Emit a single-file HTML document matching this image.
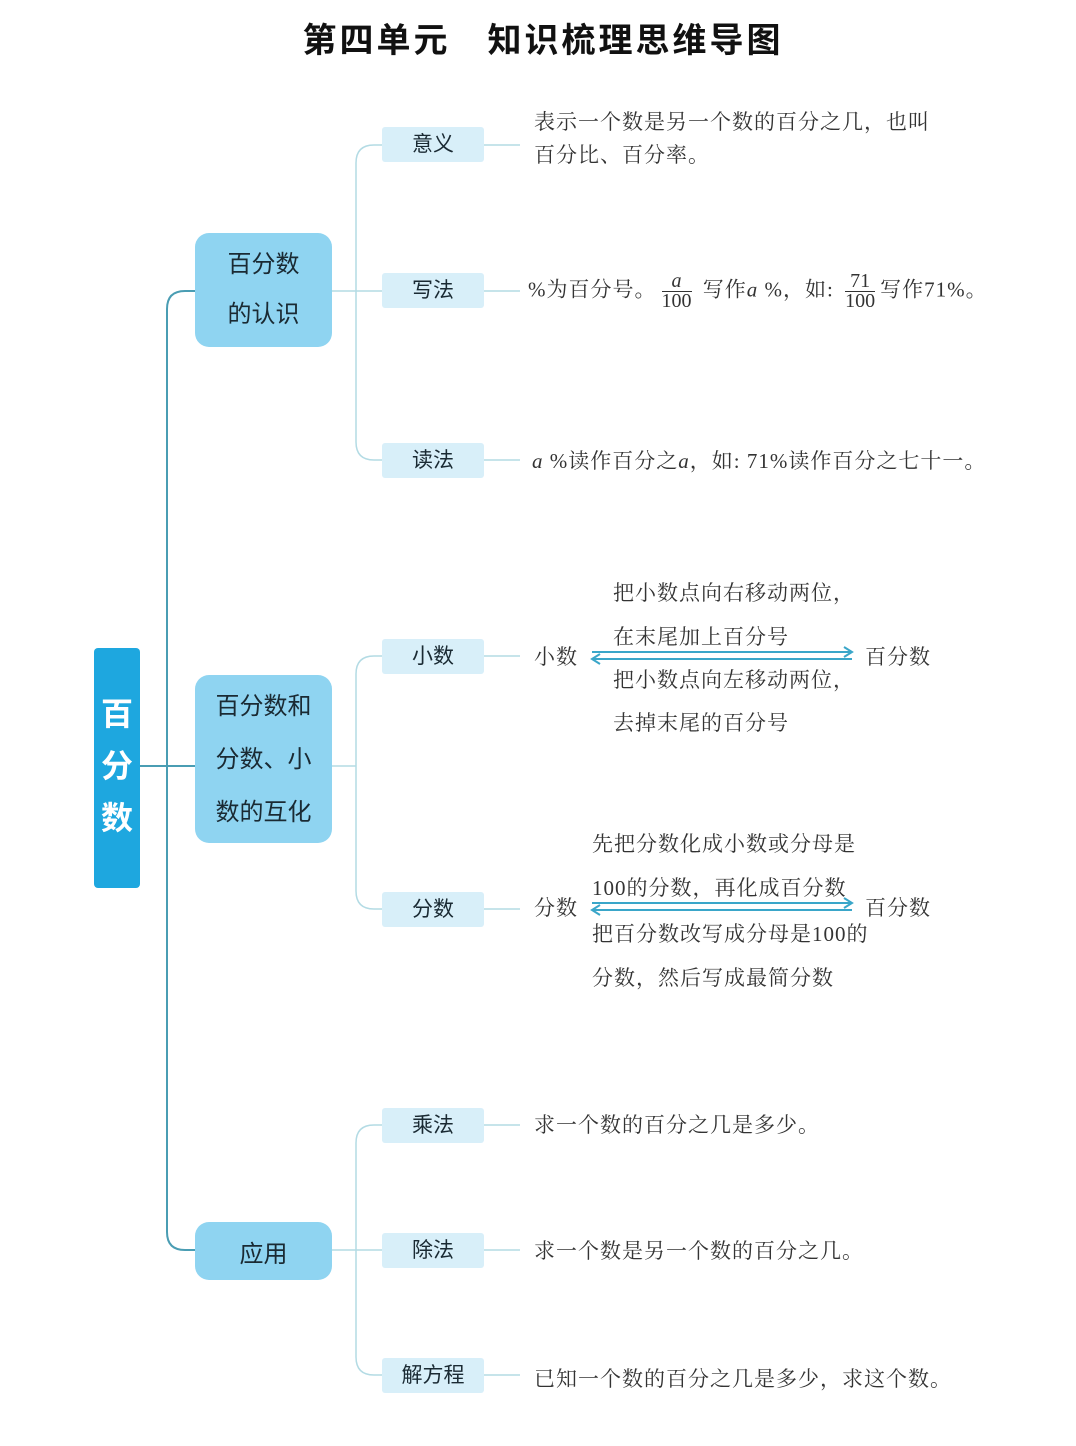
<!DOCTYPE html>
<html><head><meta charset="utf-8">
<style>
body{margin:0;width:1076px;height:1446px;background:#fff;position:relative;overflow:hidden;font-family:"Liberation Serif","Noto Serif CJK SC",serif;color:#333}
.a{position:absolute;white-space:nowrap}
.t{font-family:"Liberation Sans","Noto Sans CJK SC",sans-serif;font-weight:bold;color:#111;font-size:34px;left:0;width:1086px;text-align:center;top:13px;letter-spacing:3px}
.l2{position:absolute;left:195px;width:137px;background:#8fd4f1;border-radius:14px;font-family:"Liberation Sans","Noto Sans CJK SC",sans-serif;font-size:24px;color:#1a2a33;text-align:center;display:flex;flex-direction:column;justify-content:center}
.l3{position:absolute;left:382px;width:102px;height:35px;background:#d8eff9;border-radius:3px;font-family:"Liberation Sans","Noto Sans CJK SC",sans-serif;font-size:21px;color:#1a2a33;text-align:center;line-height:35px}
.x{font-size:21px;letter-spacing:1px;color:#333}
.fr{display:inline-block;vertical-align:middle;text-align:center;line-height:19px;font-size:20px;margin:0 5px;letter-spacing:0}
.fr span{display:block}
.fr .n{border-bottom:1px solid #333}
</style></head><body>
<div class="a t">第四单元　知识梳理思维导图</div>
<svg width="1076" height="1446" style="position:absolute;left:0;top:0">
<g fill="none" stroke="#4a9db3" stroke-width="2">
<path d="M195 291 H185 Q167 291 167 309 V1232 Q167 1250 185 1250 H195"/>
<path d="M140 766 H195"/>
</g>
<g fill="none" stroke="#b3dbe4" stroke-width="1.5">
<path d="M382 145 H374 Q356 145 356 163 V442 Q356 460 374 460 H382"/>
<path d="M332 291 H382"/>
<path d="M382 656 H374 Q356 656 356 674 V891 Q356 909 374 909 H382"/>
<path d="M332 766 H356"/>
<path d="M382 1125 H374 Q356 1125 356 1143 V1357 Q356 1375 374 1375 H382"/>
<path d="M332 1250 H382"/>
<path d="M484 145 H520 M484 291 H520 M484 460 H520 M484 656 H520 M484 909 H520 M484 1125 H520 M484 1250 H520 M484 1375 H520"/>
</g>
<g stroke="#3aa6c9" stroke-width="2" fill="none">
<path d="M592 652 H852 M844 647 L852 652 L844 657"/>
<path d="M592 659 H852 M600 654 L592 659 L600 664"/>
<path d="M592 903 H852 M844 898 L852 903 L844 908"/>
<path d="M592 910 H852 M600 905 L592 910 L600 915"/>
</g>
</svg>
<div class="a" style="left:94px;top:648px;width:46px;height:240px;background:#1ea7df;border-radius:4px;color:#fff;font-family:'Liberation Sans','Noto Sans CJK SC',sans-serif;font-weight:bold;font-size:32px;text-align:center;line-height:52px;padding-top:40px;box-sizing:border-box">百<br>分<br>数</div>
<div class="l2" style="top:233px;height:114px;line-height:50px">百分数<br>的认识</div>
<div class="l2" style="top:675px;height:168px;line-height:53px">百分数和<br>分数、小<br>数的互化</div>
<div class="l2" style="top:1222px;height:58px">应用</div>
<div class="l3" style="top:127px">意义</div>
<div class="l3" style="top:273px">写法</div>
<div class="l3" style="top:443px">读法</div>
<div class="l3" style="top:639px">小数</div>
<div class="l3" style="top:892px">分数</div>
<div class="l3" style="top:1108px">乘法</div>
<div class="l3" style="top:1233px">除法</div>
<div class="l3" style="top:1358px">解方程</div>
<div class="a x" style="left:534px;top:106px;line-height:33px">表示一个数是另一个数的百分之几，也叫<br>百分比、百分率。</div>
<div class="a x" style="left:528px;top:272px">%为百分号。<span class="fr"><span class="n"><i>a</i></span><span>100</span></span> 写作<i>a</i> %，如: <span class="fr"><span class="n">71</span><span>100</span></span>写作71%。</div>
<div class="a x" style="left:532px;top:445px"><i>a</i> %读作百分之<i>a</i>，如: 71%读作百分之七十一。</div>
<div class="a x" style="left:613px;top:577px">把小数点向右移动两位，</div>
<div class="a x" style="left:613px;top:621px">在末尾加上百分号</div>
<div class="a x" style="left:534px;top:641px">小数</div>
<div class="a x" style="left:865px;top:641px">百分数</div>
<div class="a x" style="left:613px;top:664px">把小数点向左移动两位，</div>
<div class="a x" style="left:613px;top:707px">去掉末尾的百分号</div>
<div class="a x" style="left:592px;top:828px">先把分数化成小数或分母是</div>
<div class="a x" style="left:592px;top:872px">100的分数，再化成百分数</div>
<div class="a x" style="left:534px;top:892px">分数</div>
<div class="a x" style="left:865px;top:892px">百分数</div>
<div class="a x" style="left:592px;top:918px">把百分数改写成分母是100的</div>
<div class="a x" style="left:592px;top:962px">分数，然后写成最简分数</div>
<div class="a x" style="left:534px;top:1109px">求一个数的百分之几是多少。</div>
<div class="a x" style="left:534px;top:1235px">求一个数是另一个数的百分之几。</div>
<div class="a x" style="left:534px;top:1363px">已知一个数的百分之几是多少，求这个数。</div>
</body></html>
